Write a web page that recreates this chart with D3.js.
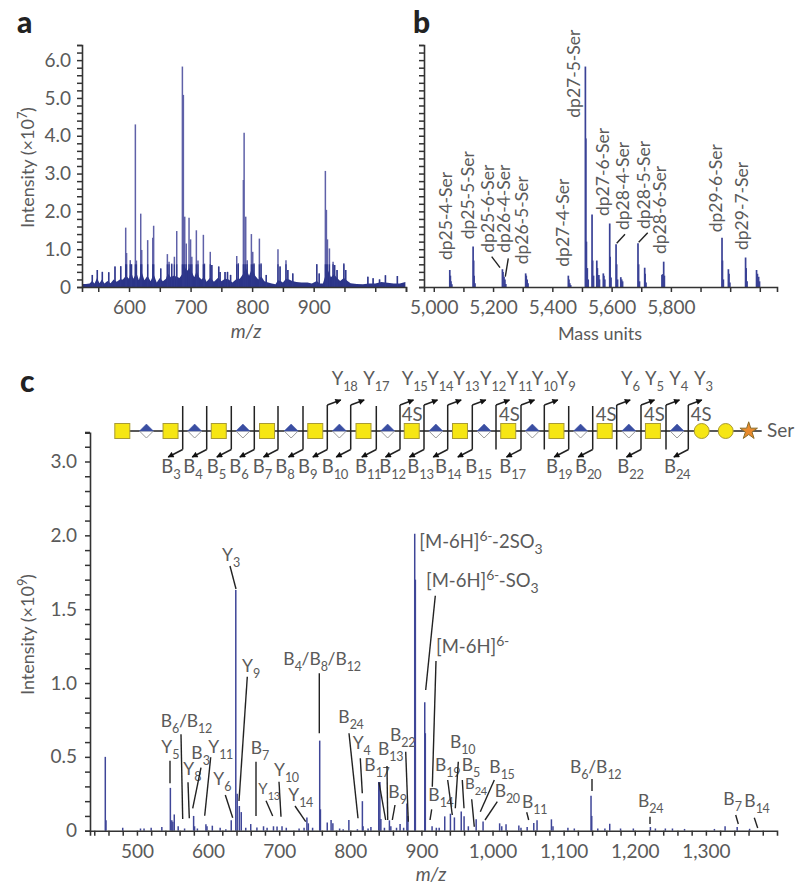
<!DOCTYPE html>
<html><head><meta charset="utf-8">
<style>html,body{margin:0;padding:0;background:#fff}svg{display:block}
text{font-family:Lato,"Open Sans",sans-serif;fill:#5a5a5a}</style>
<script src="https://cdn.jsdelivr.net/npm/d3@7"></script></head><body>
<svg id="c" width="800" height="895" viewBox="0 0 800 895"></svg>
<script>
// ---------- panel a: values ----------
const mzA = [540.4,548.5,556.7,567,577.2,586.5,594.6,596,602,604,610.3,612,619,620.6,630.3,640,638.6,651.5,662.3,665,669.3,673.7,677.5,686.7,688.3,690.5,693,697.5,700,702,709.4,712,720.8,722.5,732,734.5,745.7,748,756,760,765,775,777.5,785.8,787,789.6,792,798.8,801,803,811.8,814.5,823,842,845.4,855,858,866,905,909,919,920.7,922.4,925.6,931.5,934,938,949,952,988,996.6,1007,1016.6,1036];
const intA = [.32,.45,.40,.39,.54,.55,1.57,.9,.71,.6,4.30,.7,1.94,.98,1.24,1.62,1.3,.49,.87,.67,.62,.8,1.48,5.83,5.08,1.86,1.15,1.83,1.26,.8,1.5,.7,1.38,.62,.93,.58,.54,.4,.4,.4,.32,.82,.63,2.83,4.08,1.86,.71,1.4,.93,.63,1.28,.63,.32,1.0,.54,.71,.45,.36,.6,.36,3.07,2.04,1.26,1.02,.67,.58,.45,.63,.45,.27,.23,.2,.31,.29];
const grassMzA = [524,530,536,540,544,548,552,556,560,565,570,575,580,585,590,595,600,603,607,612,616,620,625,630,635,640,645,650,655,660,663,668,672,677,682,687,690,694,698,702,706,710,714,718,722,726,732,738,745,750,756,762,768,775,780,785,790,795,800,805,810,815,820,826,832,838,842,846,850,855,860,865,872,880,890,897,905,910,915,919,923,928,933,938,943,949,955,960,970,980,990,1000,1010,1020,1030,1040,1049];
const grassA = [.08,.08,.09,.16,.09,.24,.1,.2,.09,.16,.1,.2,.14,.2,.2,.3,.22,.42,.22,.38,.18,.42,.18,.3,.15,.34,.12,.24,.15,.22,.36,.26,.3,.28,.24,.36,.55,.42,.5,.4,.26,.42,.26,.2,.28,.14,.25,.14,.25,.15,.22,.2,.12,.22,.22,.34,.5,.3,.5,.3,.2,.28,.15,.12,.09,.07,.18,.16,.12,.22,.2,.16,.13,.12,.12,.09,.16,.09,.09,.3,.45,.26,.34,.24,.16,.24,.16,.1,.08,.07,.09,.09,.13,.11,.09,.09,.13];
const xTickLabelsA = ["600","700","800","900"];
const xTicksA = [550,600,650,700,750,800,850,900,950,1000,1050];
const yTicksLabelledA = [0,1,2,3,4,5,6];
const yTickLabelsA = ["0","1.0","2.0","3.0","4.0","5.0","6.0"];

// ---------- panel b ----------
const massB = [5054,5056,5058,5061,5132.7,5134.5,5136,5139,5231.6,5233.5,5237,5240,5243,5310,5312,5315,5318,5454,5456,5459,5462,5511.5,5513,5515,5518,5521,5534,5536,5539,5550,5552,5557,5559,5572,5574,5577,5593.6,5595,5598,5615,5617,5620,5631,5634,5637,5689,5691,5694,5711.6,5713,5716,5770,5772,5775.7,5778,5972.5,5974,5977,5994,5996,5999,6052,6054,6057,6089,6092,6096,6099];
const intB = [.45,.3,.15,.07,1.07,.7,.3,.1,.47,.4,.27,.2,.08,.36,.3,.2,.1,.30,.2,.1,.05,5.83,3.93,1.2,.5,.2,1.92,.7,.3,.70,.5,.32,.2,.36,.3,.2,1.68,.8,.25,1.13,.6,.2,.26,.2,.15,1.16,.6,.15,.51,.35,.12,.32,.34,.67,.3,1.3,.7,.2,.47,.35,.12,.78,.5,.15,.45,.35,.27,.15];
const xTicksB = [5000,5100,5200,5300,5400,5500,5600,5700,5800,5900,6000,6100];
const xTicksLabelledB = [5000,5200,5400,5600,5800];
const xTickLabelsB = ["5,000","5,200","5,400","5,600","5,800"];
const compoundNames = ["dp25-4-Ser","dp25-5-Ser","dp25-6-Ser","dp26-4-Ser","dp26-5-Ser","dp27-4-Ser","dp27-5-Ser","dp27-6-Ser","dp28-4-Ser","dp28-5-Ser","dp28-6-Ser","dp29-6-Ser","dp29-7-Ser"];

// ---------- panel c ----------
const mzC = [455.5,456.5,480,505,510,520,535,547,549,550.5,552.5,558,567,579.7,581,585,597,598.5,606,617,625,632.6,639,641,644,646.7,653,660,668.7,678,683,692,697,704,710,728,735,739,741,747,757,758,767.6,773,775.5,785,790,798,810,817,818,825,829,840,841.6,843,848,855,857,865,870,875,879.6,881,890.6,891.5,904.7,905.5,915,921,925,932.8,940.8,946.4,956,960,966,977,986.7,1010,1013,1019,1037,1040,1048.7,1058,1062.6,1082.8,1085,1106,1115,1138.5,1139.5,1148,1158,1164.8,1180,1198,1222,1229,1243,1253,1270,1312,1327,1344,1361.5];
const intC = [.5,.07,.02,.015,.015,.02,.025,.29,.07,.06,.11,.03,.015,.1,.03,.015,.043,.03,.034,.02,.01,.07,1.63,.25,.167,.126,.02,.045,.022,.03,.02,.03,.028,.03,.02,.015,.02,.09,.05,.02,.61,.145,.055,.072,.05,.015,.01,.072,.01,.2,.03,.015,.025,.33,.33,.08,.02,.07,.03,.02,.045,.02,.185,.1,2.01,1.7,.87,.66,.03,.02,.02,.097,.115,.09,.13,.097,.03,.077,.063,.05,.03,.043,.036,.02,.025,.052,.07,.077,.03,.02,.015,.237,.1,.015,.015,.047,.015,.015,.025,.015,.015,.015,.012,.012,.03,.025,.013];
const xTicksC = [440,460,480,500,520,540,560,580,600,620,640,660,680,700,720,740,760,780,800,820,840,860,880,900,920,940,960,980,1000,1020,1040,1060,1080,1100,1120,1140,1160,1180,1200,1220,1240,1260,1280,1300,1320,1340,1360,1380];
const xTicksLabelledC = [500,600,700,800,900,1000,1100,1200,1300];
const xTickLabelsC = ["500","600","700","800","900","1,000","1,100","1,200","1,300"];
const yTicksLabelledC = [0,.5,1,1.5,2,2.5];
const yTickLabelsC = ["0","0.5","1.0","1.5","2.0","3.0"];

// glycan chain residues
const residues = ["sq","di","sq","di","sq","di","sq","di","sq","di","sq","di","sq","di","sq","di","sq","di","sq","di","sq","di","sq","di","sq","di","ci","ci","st"];
const yFragments = ["Y18","Y17","Y15","Y14","Y13","Y12","Y11","Y10","Y9","Y6","Y5","Y4","Y3"];
const bFragments = ["B3","B4","B5","B6","B7","B8","B9","B10","B11","B12","B13","B14","B15","B17","B19","B20","B22","B24"];

// ---------- layout (annotation placement, not data) ----------
const rotatedPos = [[452,260],[474.3,239.3],[493.7,252.7],[510.3,252.7],[527.7,264.3],[569.3,266.7],[580.3,117.7],[609.3,216],[629.3,230],[650.3,229],[666.3,254],[722,232.3],[748.3,250]];
const leadersB = [[491.7,256.7,500,267.7],[508.3,258.3,505.3,276.7],[625,234.3,616.7,243.3],[647.7,232.7,638.7,242.3]];
const yLabelX = [331.7,363.3,401.7,427.3,453.3,480,506.7,531.7,556.7,621,645,669.3,694];
const bLabelX = [161.3,183.3,206.7,229.3,252.7,275.3,298,321.7,355,379.3,407.3,435,465.3,499.3,546,575,617.3,664];
const cuts = [ // x, hasY, hasB
 [182.7,0,1],[206.7,0,1],[231.3,0,1],[254.3,0,1],[278,0,1],[303,0,1],[327.3,1,1],[350.7,1,1],[376.3,0,1],[400,1,1],[424,1,1],
 [447.7,1,1],[472.3,1,1],[496,1,0],[521,1,1],[544.3,1,0],[568.7,0,1],[592.7,0,1],[616.7,1,0],[641,1,1],[666,1,0],[688.3,1,1]];
const sulfates = [401.7,499,595.7,644,690.7];
const annC = [
 ["Y_{3}",222,561,230,566,236,589],
 ["Y_{9}",242,672,247.3,676.7,239,801],
 ["B_{4}/B_{8}/B_{12}",283.3,665.3,319.3,673.3,319.3,733.3],
 ["B_{6}/B_{12}",160.7,726.7,181,734.3,182.7,819],
 ["Y_{5}",161.3,752.7,170,760.7,170,783.3],
 ["Y_{8}",183.3,775,188,782.3,189.3,818.3],
 ["B_{3}",191.3,759.3,201,767.7,192.7,808.3],
 ["Y_{11}",208.3,752.7,210.7,757.3,204.7,815.7],
 ["Y_{6}",213.3,785,225.3,795,232.7,817.7],
 ["B_{7}",250.7,754,256,761.7,256,816],
 ["Y_{13}",258.3,794,266,800.7,272.7,816],
 ["Y_{10}",274,775.7,279,781.7,281,816.7],
 ["Y_{14}",288.3,801,295,806,305.7,821.7],
 ["B_{24}",338.3,723.3,349,733.3,358,818.3],
 ["Y_{4}",352.7,749.3,360.3,758.3,362.3,793.3],
 ["B_{17}",364.3,771,379,782.3,385.7,820],
 ["B_{13}",378,755,387,766,387.7,820],
 ["B_{9}",388.3,798.3,395,805,392.3,820],
 ["B_{22}",390,740.7,405.7,751.7,408.3,821.7],
 ["[M-6H]^{6-}-2SO_{3}",419.3,548.3],
 ["[M-6H]^{6-}-SO_{3}",426,586.7,435.3,595.7,425.7,690],
 ["[M-6H]^{6-}",436,652.7,436,661,432.3,786.7],
 ["B_{14}",428.3,801,431.7,809.3,430,820],
 ["B_{19}",435,770.7,447.7,780,452.3,815],
 ["B_{10}",450,747.7,458.3,761.7,455.3,808.3],
 ["B_{5}",461.7,771,462.3,780,464,808.3],
 ["B_{24}",465,789.3,471.7,799.3,474.3,826.7],
 ["B_{15}",489.3,773.3,494.3,780,480.3,811.7],
 ["B_{20}",494.7,796.7,497.3,801.7,485,820],
 ["B_{11}",522,808.3,526.7,812.3,528.7,820],
 ["B_{6}/B_{12}",570,773.3,592,779,592,791],
 ["B_{24}",638,806.7,650,816.7,650,824],
 ["B_{7}",723.3,805,735.7,815,738.3,824],
 ["B_{14}",744.3,806.7,754.3,817.7,757.7,828]
];

const svg = d3.select("#c");
svg.append("defs").append("marker").attr("id","ah").attr("viewBox","0 0 10 10").attr("refX",9).attr("refY",5)
  .attr("markerWidth",7).attr("markerHeight",6).attr("markerUnits","userSpaceOnUse").attr("orient","auto")
  .append("path").attr("d","M0,0L10,5L0,10Z").attr("fill","#111");

const INK="#333", TXT="#5a5a5a";
function rich(sel,str,x,y,fs=18,subFs){
  subFs=subFs||13;
  const t=sel.append("text").attr("x",x).attr("y",y).attr("font-size",fs);
  const re=/([_^])\{([^}]*)\}|[^_^]+/g; let m,off=0;
  while((m=re.exec(str))){
    const ts=t.append("tspan");
    if(m[1]){const d=m[1]==="_"?6:-7; ts.attr("dy",d-off).attr("font-size",subFs).attr("letter-spacing",-.4).text(m[2]); off=d;}
    else {if(off)ts.attr("dy",-off); ts.text(m[0]); off=0;}
  }
  return t;
}
function styleAxis(g){
  g.selectAll(".domain").attr("stroke",INK).attr("stroke-width",1.6);
  g.selectAll(".tick line").attr("stroke",INK).attr("stroke-width",1.5);
  g.selectAll(".tick text").attr("font-size",19).style("fill",TXT).attr("font-family","Lato");
}
function xAxis(scale,ticks,labelled,labels,y,pad){
  const g=svg.append("g").attr("transform",`translate(0,${y})`)
    .call(d3.axisBottom(scale).tickValues(ticks).tickSizeOuter(0).tickSize(5).tickPadding(pad)
      .tickFormat(v=>{const i=labelled.indexOf(v);return i<0?"":labels[i];}));
  styleAxis(g);return g;
}
function yAxis(scale,ticks,labelled,labels,x,pad){
  const g=svg.append("g").attr("transform",`translate(${x},0)`)
    .call(d3.axisLeft(scale).tickValues(ticks).tickSizeOuter(0).tickSize(5).tickPadding(pad)
      .tickFormat(v=>{const i=labelled.findIndex(l=>Math.abs(l-v)<1e-6);return i<0?"":labels[i];}));
  styleAxis(g);return g;
}
function peaks(xs,ys,x,y,color,w){
  svg.append("g").selectAll("line").data(xs).join("line")
    .attr("x1",d=>x(d)).attr("x2",d=>x(d)).attr("y1",y(0)).attr("y2",(d,i)=>y(ys[i]))
    .attr("stroke",color).attr("stroke-width",w);
}

// ---- panel a ----
const xA=d3.scaleLinear().domain([523.6,1050]).range([82,406]);
const yA=d3.scaleLinear().domain([0,6.4]).range([287,45]);
peaks(mzA,intA,xA,yA,"#5f61a8",1.5);
svg.append("path").datum(grassMzA).attr("fill","#2b3488")
  .attr("d",d3.area().x(d=>xA(d)).y0(yA(0)).y1((d,i)=>yA(grassA[i])));
peaks(mzA,intA.map(v=>Math.min(v,.6)),xA,yA,"#2f388c",1.3);
xAxis(xA,xTicksA,xTicksA.filter(v=>xTickLabelsA.includes(String(v))),xTickLabelsA,287,9);
yAxis(yA,d3.range(0,33).map(i=>i*.2),yTicksLabelledA,yTickLabelsA,82,6);

// ---- panel b ----
const xB=d3.scaleLinear().domain([4967,6158]).range([424,777]);
const yB=yA;
peaks(massB,intB,xB,yB,"#3a4296",1.7);
xAxis(xB,xTicksB,xTicksLabelledB,xTickLabelsB,287,9);
yAxis(yB,d3.range(0,33).map(i=>i*.2),[],[],424,6);
compoundNames.forEach((n,i)=>{
  const [x,y]=rotatedPos[i];
  svg.append("text").attr("transform",`translate(${x},${y}) rotate(-90)`).attr("font-size",17.5).text(n);
});
svg.append("g").selectAll("line").data(leadersB).join("line")
  .attr("x1",d=>d[0]).attr("y1",d=>d[1]).attr("x2",d=>d[2]).attr("y2",d=>d[3])
  .attr("stroke","#222").attr("stroke-width",1.4);

// ---- panel c ----
const xC=d3.scaleLinear().domain([434,1400]).range([90,777]);
const yC=d3.scaleLinear().domain([0,2.695]).range([830.7,432.7]);
peaks(mzC,intC,xC,yC,"#3f4698",1.5);
xAxis(xC,xTicksC,xTicksLabelledC,xTickLabelsC,830.7,9);
yAxis(yC,d3.range(0,28).map(i=>i*.1),yTicksLabelledC,yTickLabelsC,90,8);

// glycan
const chainY=431, xResidue=d3.scaleLinear().domain([0,25]).range([122.3,725.3]);
const resX=i=>i<26?xResidue(i):[701.7,725.7,748.7][i-26];
svg.append("line").attr("x1",resX(0)).attr("x2",761.7).attr("y1",chainY).attr("y2",chainY).attr("stroke","#222").attr("stroke-width",1.6);
const gly=svg.append("g");
residues.forEach((r,i)=>{
  const x=resX(i);
  if(i>=24&&i<26) return;
  const g=gly.append("g").attr("transform",`translate(${x},${chainY})`);
  if(r==="sq") g.append("rect").attr("x",-7.5).attr("y",-7.5).attr("width",15).attr("height",15).attr("fill","#f6e614").attr("stroke","#a99b35").attr("stroke-width",1);
  if(r==="ci") g.append("circle").attr("r",7.5).attr("fill","#f6e614").attr("stroke","#a99b35");
  if(r==="st") g.append("path").attr("d",d3.symbol(d3.symbolStar,95)()).attr("fill","#e98a2c").attr("stroke","#8a6d2a");
  if(r==="di"){
    g.append("path").attr("d","M-7,0L0,7L7,0Z").attr("fill","#fff").attr("stroke","#999").attr("stroke-width",1);
    g.append("path").attr("d","M-7,0L0,-7L7,0Z").attr("fill","#3a4ea2").attr("stroke","#3a4ea2").attr("stroke-width",.5);
  }
});
const cutG=svg.append("g").attr("fill","none").attr("stroke","#222").attr("stroke-width",1.5);
cuts.forEach(([x,hy,hb])=>{
  const top=hy?405:406, bot=449.5;
  cutG.append("line").attr("x1",x).attr("x2",x).attr("y1",top).attr("y2",bot);
  if(hy) cutG.append("line").attr("x1",x).attr("y1",top).attr("x2",x+13.5).attr("y2",400).attr("marker-end","url(#ah)");
  if(hb) cutG.append("line").attr("x1",x).attr("y1",bot).attr("x2",x-14.5).attr("y2",457).attr("marker-end","url(#ah)");
});
yFragments.forEach((f,i)=>rich(svg,`Y_{${f.slice(1)}}`,yLabelX[i],385,18.5,13));
bFragments.forEach((f,i)=>rich(svg,`B_{${f.slice(1)}}`,bLabelX[i],473,18.5,13));
sulfates.forEach(x=>rich(svg,"4S",x,421,18.5));
rich(svg,"Ser",767,437,19);

// annotations
annC.forEach(a=>{
  const small=a[0]==="Y_{13}"||(a[0]==="B_{24}"&&a[1]===465);
  const big=a[0].startsWith("[");
  rich(svg,a[0],a[1],a[2],small?15:big?18.5:17.5,small?11:big?14:12.5);
  if(a.length>3) svg.append("line").attr("x1",a[3]).attr("y1",a[4]).attr("x2",a[5]).attr("y2",a[6]).attr("stroke","#222").attr("stroke-width",1.4);
});

// titles
[["a",17,33],["b",413,33],["c",20,391.5]].forEach(([s,x,y])=>
  svg.append("text").attr("x",x).attr("y",y).attr("font-size",30).attr("font-weight",900).style("fill","#222").text(s));
rich(svg,"Intensity (×10^{7})",0,0,18,13).attr("transform","translate(34,228) rotate(-90)");
rich(svg,"Intensity (×10^{9})",0,0,18,13).attr("transform","translate(34,695) rotate(-90)");
svg.append("text").attr("x",246).attr("y",338).attr("text-anchor","middle").attr("font-size",19).attr("font-style","italic").text("m/z");
svg.append("text").attr("x",600).attr("y",340).attr("text-anchor","middle").attr("font-size",18).text("Mass units");
svg.append("text").attr("x",431).attr("y",881).attr("text-anchor","middle").attr("font-size",19).attr("font-style","italic").text("m/z");
</script></body></html>
